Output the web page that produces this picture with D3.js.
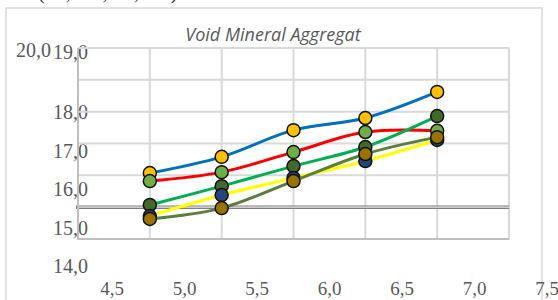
<!DOCTYPE html>
<html>
<head>
<meta charset="utf-8">
<script src="https://cdn.jsdelivr.net/npm/d3@7/dist/d3.min.js"></script>
<style>
  body { margin: 0; background: #fff; }
  svg { display: block; }
</style>
</head>
<body>
<svg></svg>
<script>
// data
var asphalt = [4.5, 5.0, 5.5, 6.0, 6.5];
var vmaBlue   = [16.07, 16.58, 17.42, 17.80, 18.62];
var vmaRed    = [15.82, 16.10, 16.73, 17.36, 17.40];
var vmaGreen  = [15.07, 15.66, 16.29, 16.89, 17.86];
var vmaYellow = [14.72, 15.38, 15.92, 16.45, 17.11];
var vmaOlive  = [14.63, 14.97, 15.82, 16.67, 17.20];
var minVma = 15.0;

var xTickLabels = [4.5, 5.0, 5.5, 6.0, 6.5, 7.0, 7.5];
var yTickLabels = [14, 15, 16, 17, 18];

var series = [
    { values: vmaBlue,   line: "#0070c0", marker: "#ffc000" },
    { values: vmaRed,    line: "#ff0000", marker: "#70ad47" },
    { values: vmaGreen,  line: "#00b050", marker: "#43682b" },
    { values: vmaYellow, line: "#ffff00", marker: "#264478" },
    { values: vmaOlive,  line: "#5b7f3a", marker: "#997300" }
];

var width = 558,
    height = 300;

var svg = d3.select("svg")
    .attr("width", width)
    .attr("height", height);

var fmt = function(v) { return d3.format(".1f")(v).replace(".", ","); };

// plot area scales
var x = d3.scaleLinear().domain([4.0, 7.0]).range([78, 509]);
var y = d3.scaleLinear().domain([14, 20]).range([239, 48]);

// the labels sit on their own (shifted) scales
var xLab = d3.scaleLinear().domain([4.5, 7.5]).range([112, 547]);
var yLab = d3.scaleLinear().domain([14, 18]).range([266, 112]);

// outer frame
svg.append("path")
    .attr("d", "M6,310V8H542V310")
    .attr("fill", "none")
    .attr("stroke", "#d9d9d9")
    .attr("stroke-width", 1.5);

// text line above the frame, only its bottom shows
svg.append("text")
    .attr("x", 38)
    .attr("y", -1.5)
    .style("font-family", "Liberation Serif")
    .style("font-size", "20px")
    .style("letter-spacing", "0.4px")
    .attr("fill", "#222")
    .text("(12,500, 17,500)");

svg.append("text")
    .attr("x", 273)
    .attr("y", 41)
    .attr("text-anchor", "middle")
    .style("font-family", "Open Sans")
    .style("font-style", "italic")
    .style("font-size", "18px")
    .attr("fill", "#595959")
    .text("Void Mineral Aggregat");

// tick labels
var labelStyle = function(sel) {
    sel.style("font-family", "Liberation Serif")
        .style("font-size", "20px")
        .attr("fill", "#595959");
};

svg.selectAll(".ylab")
    .data(yTickLabels)
    .enter().append("text")
    .attr("class", "ylab")
    .attr("x", 88)
    .attr("y", function(d) { return yLab(d) + 7; })
    .attr("text-anchor", "end")
    .call(labelStyle)
    .text(fmt);

svg.append("text")
    .attr("x", 88)
    .attr("y", y(20) + 11)
    .attr("text-anchor", "end")
    .call(labelStyle)
    .text(fmt(19));

svg.append("text")
    .attr("x", 51)
    .attr("y", y(20) + 9)
    .attr("text-anchor", "end")
    .call(labelStyle)
    .text(fmt(20));

svg.selectAll(".xlab")
    .data(xTickLabels)
    .enter().append("text")
    .attr("class", "xlab")
    .attr("x", function(d) { return xLab(d); })
    .attr("y", 295)
    .attr("text-anchor", "middle")
    .call(labelStyle)
    .style("font-size", "19px")
    .text(fmt);

// grid
var g = svg.append("g");

g.selectAll(".vgrid")
    .data(d3.range(4.0, 7.01, 0.5))
    .enter().append("line")
    .attr("x1", function(d) { return x(d); })
    .attr("x2", function(d) { return x(d); })
    .attr("y1", y(20))
    .attr("y2", y(14))
    .attr("stroke", "#d9d9d9")
    .attr("stroke-width", 2);

g.selectAll(".hgrid")
    .data(d3.range(14, 20.01, 1))
    .enter().append("line")
    .attr("x1", x(4))
    .attr("x2", x(7))
    .attr("y1", function(d) { return y(d); })
    .attr("y2", function(d) { return y(d); })
    .attr("stroke", "#d9d9d9")
    .attr("stroke-width", 2);

// minimum VMA line
g.append("line")
    .attr("x1", x(4) - 2).attr("x2", x(7))
    .attr("y1", y(minVma)).attr("y2", y(minVma))
    .attr("stroke", "#808080")
    .attr("stroke-width", 3.5);
g.append("line")
    .attr("x1", x(4)).attr("x2", x(7))
    .attr("y1", y(minVma)).attr("y2", y(minVma))
    .attr("stroke", "#e6e6e6")
    .attr("stroke-width", 1.2);

// axis lines
g.append("path")
    .attr("d", "M" + x(4) + "," + y(20) + "V" + y(14) + "H" + x(7))
    .attr("fill", "none")
    .attr("stroke", "#bfbfbf")
    .attr("stroke-width", 2);

// series
var line = d3.line()
    .x(function(d, i) { return x(asphalt[i]); })
    .y(function(d) { return y(d); })
    .curve(d3.curveCatmullRom.alpha(0.5));

series.forEach(function(s) {
    var sg = svg.append("g");
    sg.append("path")
        .attr("d", line(s.values))
        .attr("fill", "none")
        .attr("stroke", s.line)
        .attr("stroke-width", 3);
    sg.selectAll("circle")
        .data(s.values)
        .enter().append("circle")
        .attr("cx", function(d, i) { return x(asphalt[i]); })
        .attr("cy", function(d) { return y(d); })
        .attr("r", 6.5)
        .attr("fill", s.marker)
        .attr("stroke", "#111")
        .attr("stroke-width", 1.5);
});
</script>
</body>
</html>
